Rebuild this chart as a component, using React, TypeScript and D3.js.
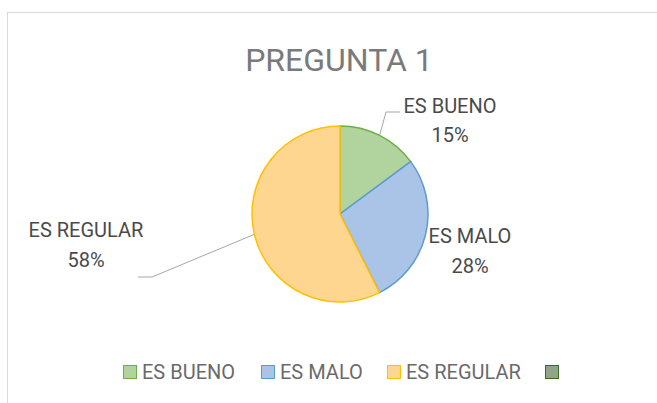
import React from "react";
import * as d3 from "d3";

const categories = ["ES BUENO", "ES MALO", "ES REGULAR", ""];
const values = [15, 28, 58, 0];
const percentLabels = ["15%", "28%", "58%", ""];
const titleText = "PREGUNTA 1";

const fills = ["#b1d49e", "#a9c4e6", "#fed68f", "#8ea58a"];
const strokes = ["#70ad47", "#5b9bd5", "#ffc000", "#3f6b2a"];

// layout
const W = 657, H = 403;
const cx = 340, cy = 214, R = 88;
const labelPos = [
  { x: 450, y1: 113, y2: 142 },
  { x: 470, y1: 243, y2: 273 },
  { x: 86, y1: 237, y2: 267 },
];
const leaders: ({ elbow: [number, number]; end: [number, number] } | null)[] = [
  { elbow: [386, 112], end: [400, 112] },
  null,
  { elbow: [152, 277], end: [138, 277] },
];
const legendItems = [
  { sx: 123, tx: 142 },
  { sx: 261, tx: 280 },
  { sx: 387, tx: 406 },
  { sx: 545, tx: 0 },
];

const FONT = "Roboto, 'Open Sans', sans-serif";

export default function App() {
  const pie = d3.pie<number>().sort(null).value((d) => d).startAngle(0).endAngle(2 * Math.PI);
  const arcs = pie(values);
  const arcGen = d3.arc<d3.PieArcDatum<number>>().innerRadius(0).outerRadius(R);

  return (
    <svg width={W} height={H} style={{ position: "absolute", left: 0, top: 0, background: "#fff" }}>
      <rect x={7.5} y={12.5} width={700} height={420} fill="#fff" stroke="#d9d9d9" strokeWidth={1} />
      <text x={339} y={71} textAnchor="middle" fontFamily={FONT} fontSize={32} fill="#7a7a7a">
        {titleText}
      </text>
      <g transform={`translate(${cx},${cy})`}>
        {arcs.map((a, i) =>
          a.value > 0 ? (
            <path key={i} d={arcGen(a) || ""} fill={fills[i]} stroke={strokes[i]} strokeWidth={1.5} />
          ) : null
        )}
      </g>
      {arcs.map((a, i) => {
        const L = leaders[i];
        if (!L || a.value <= 0) return null;
        const mid = (a.startAngle + a.endAngle) / 2;
        const sx = cx + R * Math.sin(mid);
        const sy = cy - R * Math.cos(mid);
        return (
          <polyline
            key={"l" + i}
            points={`${sx},${sy} ${L.elbow[0]},${L.elbow[1]} ${L.end[0]},${L.end[1]}`}
            fill="none"
            stroke="#a6a6a6"
            strokeWidth={1}
          />
        );
      })}
      {labelPos.map((p, i) => (
        <text key={"t" + i} textAnchor="middle" fontFamily={FONT} fontSize={20} fill="#4a4a4a">
          <tspan x={p.x} y={p.y1}>{categories[i]}</tspan>
          <tspan x={p.x} y={p.y2}>{percentLabels[i]}</tspan>
        </text>
      ))}
      {legendItems.map((it, i) => (
        <g key={"lg" + i}>
          <rect x={it.sx + 0.5} y={365.5} width={13} height={13} fill={fills[i]} stroke={strokes[i]} strokeWidth={1} />
          {categories[i] ? (
            <text x={it.tx} y={379} fontFamily={FONT} fontSize={20} fill="#6a6a6a">
              {categories[i]}
            </text>
          ) : null}
        </g>
      ))}
    </svg>
  );
}
